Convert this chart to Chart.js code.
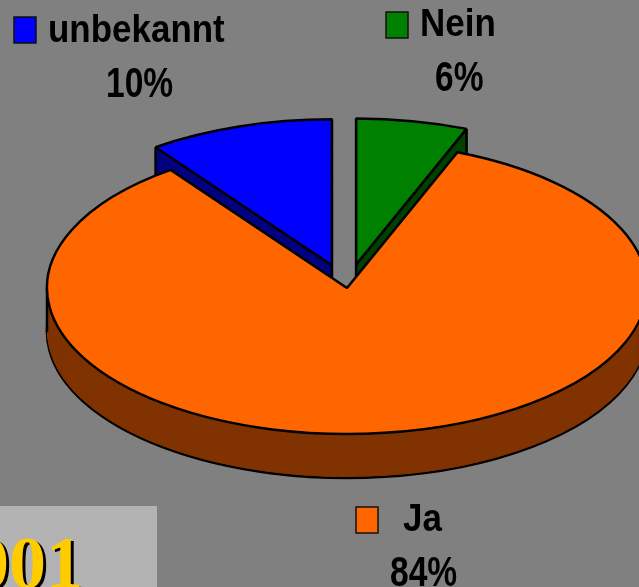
<!DOCTYPE html>
<html>
<head>
<meta charset="utf-8">
<script src="https://cdn.jsdelivr.net/npm/chart.js@4.4.0/dist/chart.umd.min.js"></script>
<style>
html, body { margin: 0; padding: 0; background: #808080; overflow: hidden; }
#wrap { position: relative; width: 639px; height: 587px; }
#c { position: absolute; left: 0; top: 0; }
#yr { position: absolute; left: 0; top: 506px; width: 157px; height: 81px; background: #b3b3b3; overflow: hidden; }
#yr span { position: absolute; left: -65px; top: 20px; font: bold 74px "Liberation Serif", "Times New Roman", serif; line-height: 74px; color: #ffcc00; text-shadow: 3px 2px 0 #000; white-space: nowrap; }
</style>
</head>
<body>
<div id="wrap">
  <canvas id="c" width="639" height="587"></canvas>
  <div id="yr"><span>2001</span></div>
</div>
<script>
let labels = ["Nein", "Ja", "unbekannt"];
let shares = [6, 84, 10];
let topColors = ["#008000", "#ff6600", "#0000ff"];
let sideColors = ["#004000", "#803300", "#000080"];
let explode = [0.163, 0, 0.163];

// where the tilted pie sits on the page
let view = { cx: 347, cy: 288, rx: 300, ry: 146, depth: 44 };

// label boxes: square, name, percentage (left x, baseline y)
let tags = [
    { sq: [386, 12], name: [420, 36], pct: [435, 91] },
    { sq: [356, 507], name: [403, 531], pct: [390, 586] },
    { sq: [14, 17], name: [48, 42], pct: [106, 97] }
];

let pie3d = {
    id: "pie3d",
    beforeDatasetsDraw(chart) {
        let ctx = chart.ctx;
        let arcs = chart.getDatasetMeta(0).data;
        let stroke = ctx.stroke;
        // strokes in page pixels so the squash does not thin the outlines
        ctx.stroke = function () {
            this.save();
            this.setTransform(1, 0, 0, 1, 0, 0);
            stroke.call(this);
            this.restore();
        };
        let mid = a => (a.startAngle + a.endAngle) / 2;
        let order = arcs.map((_, i) => i).sort((i, j) => Math.sin(mid(arcs[i])) - Math.sin(mid(arcs[j])));

        for (let i of order) {
            let a = arcs[i];
            let m = mid(a);
            let R = a.outerRadius;
            let ex = Math.cos(m) * explode[i] * R;
            let ey = Math.sin(m) * explode[i] * R;
            let place = dy => {
                ctx.save();
                ctx.translate(view.cx, view.cy + dy);
                ctx.scale(view.rx / R, view.ry / R);
                ctx.translate(-a.x + ex, -a.y + ey);
            };
            let base = a.options;

            // side wall
            for (let d = view.depth; d >= 1; d--) {
                place(d);
                a.options = Object.create(base, {
                    backgroundColor: { value: sideColors[i] },
                    borderWidth: { value: d === view.depth ? base.borderWidth : 0 }
                });
                a.draw(ctx);
                a.options = base;
                ctx.restore();
            }

            // vertical edges of the wall
            let pts = [[a.x, a.y]];
            let angs = [a.startAngle, a.endAngle];
            [0, Math.PI].forEach(t => { if (t > a.startAngle && t < a.endAngle) angs.push(t); });
            angs.forEach(t => pts.push([a.x + R * Math.cos(t), a.y + R * Math.sin(t)]));
            place(0);
            ctx.beginPath();
            pts.forEach(p => {
                ctx.moveTo(p[0], p[1]);
                ctx.lineTo(p[0], p[1] + view.depth * R / view.ry);
            });
            ctx.lineWidth = base.borderWidth;
            ctx.strokeStyle = "#000";
            ctx.stroke();
            ctx.restore();

            // top face
            place(0);
            a.draw(ctx);
            ctx.restore();
        }
        delete ctx.stroke;
        return false;
    },
    afterDraw(chart) {
        let ctx = chart.ctx;
        ctx.save();
        ctx.textBaseline = "alphabetic";
        labels.forEach((lab, i) => {
            let t = tags[i];
            ctx.fillStyle = topColors[i];
            ctx.fillRect(t.sq[0], t.sq[1], 22, 26);
            ctx.lineWidth = 1.5;
            ctx.strokeStyle = "#111";
            ctx.strokeRect(t.sq[0], t.sq[1], 22, 26);

            ctx.fillStyle = "#000";
            ctx.font = 'bold 38px "Liberation Sans", Arial, sans-serif';
            ctx.save();
            ctx.translate(t.name[0], t.name[1]);
            ctx.scale(0.92, 1);
            ctx.fillText(lab, 0, 0);
            ctx.restore();

            ctx.font = 'bold 42px "Liberation Sans", Arial, sans-serif';
            ctx.save();
            ctx.translate(t.pct[0], t.pct[1]);
            ctx.scale(0.8, 1);
            ctx.fillText(shares[i] + "%", 0, 0);
            ctx.restore();
        });
        ctx.restore();
    }
};

let chart = new Chart(document.getElementById("c").getContext("2d"), {
    type: "pie",
    data: {
        labels: labels,
        datasets: [{
            data: shares,
            backgroundColor: topColors,
            borderColor: "#000",
            borderWidth: 2.5
        }]
    },
    options: {
        responsive: false,
        animation: false,
        events: [],
        devicePixelRatio: 1,
        layout: { padding: 0 },
        plugins: { legend: { display: false }, tooltip: { enabled: false } }
    },
    plugins: [pie3d]
});
</script>
</body>
</html>
